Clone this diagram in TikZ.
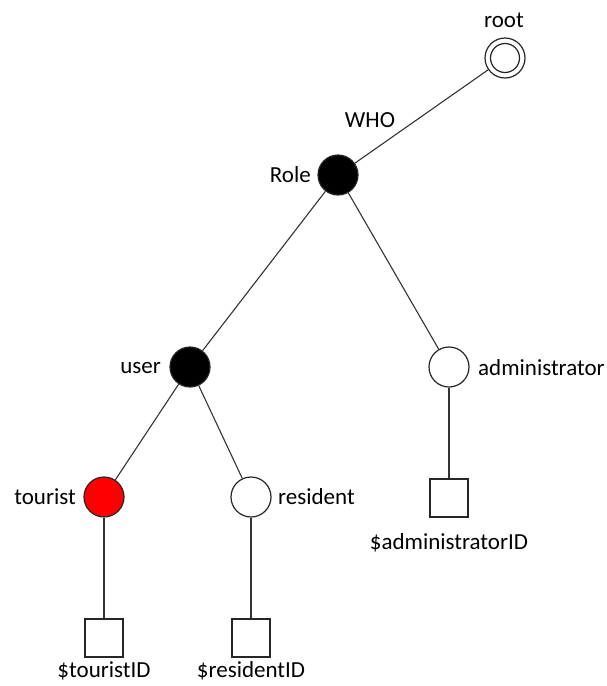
\documentclass[tikz,border=0pt]{standalone}
\usepackage{fontspec}
\setmainfont{Carlito}
\begin{document}
\begin{tikzpicture}[x=1pt,y=-1pt,
  every node/.style={font=\fontsize{23}{26}\selectfont},
  vtx/.style={circle,draw=black!85,line width=1.2pt,minimum size=40pt,inner sep=0pt},
  filled/.style={vtx,fill=black},
  hot/.style={vtx,fill=red},
  open/.style={vtx,fill=white},
  leaf/.style={rectangle,draw=black!85,line width=1.2pt,minimum size=38pt,inner sep=0pt,fill=white},
  edge/.style={draw=black!80,line width=1.1pt},
  lbl/.style={inner sep=0pt}
]
\useasboundingbox (0,0) rectangle (606,686);

% vertices
\node[open] (root) at (505,58) {};
\draw[black!85,line width=1.2pt] (root.center) circle (14.5pt);
\node[filled] (role) at (338,175) {};
\node[filled] (user) at (190,367) {};
\node[open]   (admin) at (449,367) {};
\node[hot]    (tourist) at (104,497) {};
\node[open]   (resident) at (251,497) {};
\node[leaf]   (adminid) at (449,498) {};
\node[leaf]   (touristid) at (104,638) {};
\node[leaf]   (residentid) at (251,638) {};

% connectors
\path[edge] (root) -- (role);
\path[edge] (role) -- (user);
\path[edge] (role) -- (admin);
\path[edge] (user) -- (tourist);
\path[edge] (user) -- (resident);
\path[edge] (admin) -- (adminid);
\path[edge] (tourist) -- (touristid);
\path[edge] (resident) -- (residentid);

% labels
\node[lbl] (lroot) at (504,20) {root};
\node[lbl] (lwho) at (370,120) {WHO};
\node[lbl,anchor=east] (lrole) at (311,175) {Role};
\node[lbl,anchor=east] (luser) at (161,368) {user};
\node[lbl,anchor=west] (ladmin) at (478,368) {administrator};
\node[lbl,anchor=east] (ltourist) at (76,497) {tourist};
\node[lbl,anchor=west] (lresident) at (278,497) {resident};
\node[lbl] (ladminid) at (449,543) {\$administratorID};
\node[lbl] (ltouristid) at (104,671) {\$touristID};
\node[lbl] (lresidentid) at (251,671) {\$residentID};
\end{tikzpicture}
\end{document}
